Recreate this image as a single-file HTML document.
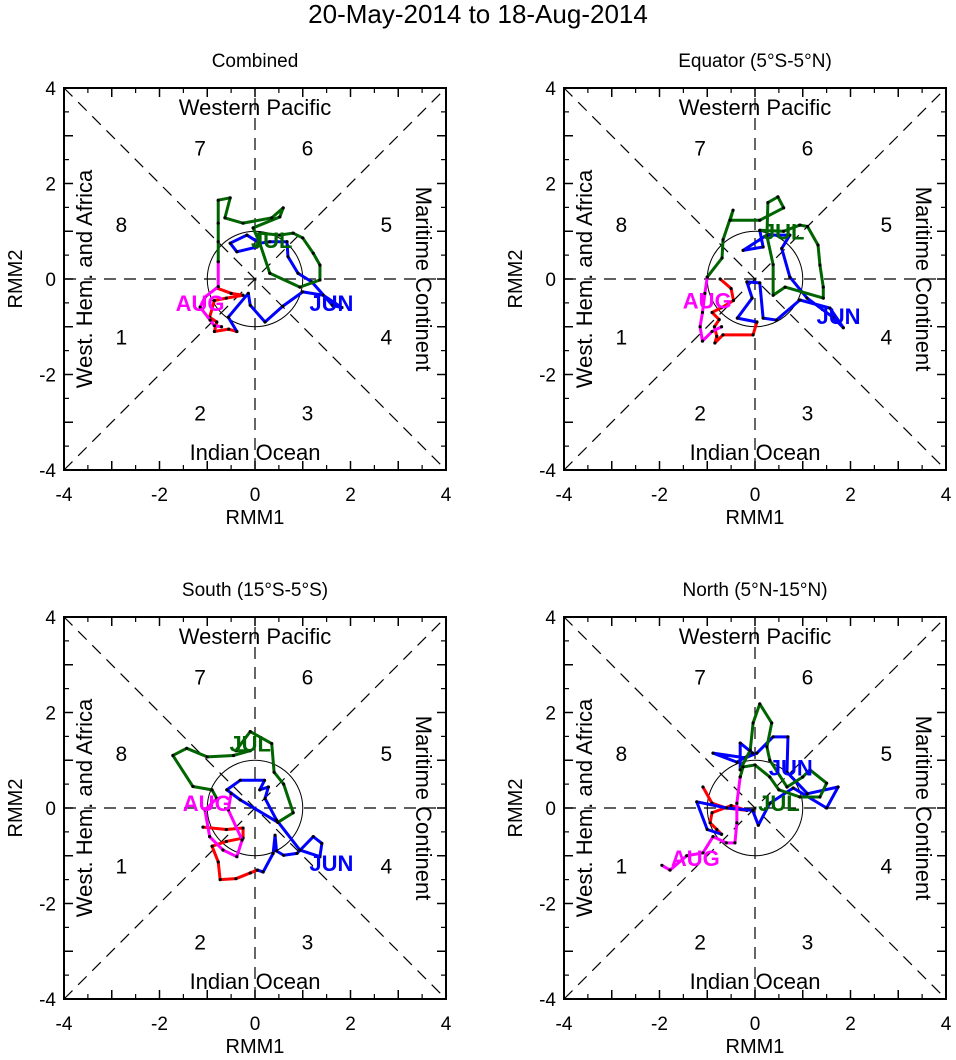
<!DOCTYPE html>
<html><head><meta charset="utf-8"><style>
html,body{margin:0;padding:0;background:#fff;}
svg{display:block;font-family:"Liberation Sans",sans-serif;}
</style></head><body>
<svg id="chart" width="956" height="1060" viewBox="0 0 956 1060" xmlns="http://www.w3.org/2000/svg">
<text x="478" y="23" font-size="26" text-anchor="middle">20-May-2014 to 18-Aug-2014</text>
</svg>
<script>
const ticks=[-4,-3,-2,-1,0,1,2,3,4];
const tickLabels=["-4","-2","0","2","4"];
const tickLabelVals=[-4,-2,0,2,4];
const monthColors={may:"#ff0000",jun:"#0000ff",jul:"#006400",aug:"#ff00ff"};
const panelTitles=["Combined","Equator (5°S-5°N)","South (15°S-5°S)","North (5°N-15°N)"];
const panelNames=["combined","equator","south","north"];
const mayCombined=[[-0.8,-0.19],[-0.5,-0.3],[-0.25,-0.34],[-0.6,-0.4],[-0.85,-0.45],[-0.95,-0.8],[-0.8,-0.9],[-0.85,-1.1],[-0.55,-1.05],[-0.38,-1.1]];
const junCombined=[[-0.38,-1.1],[-0.56,-0.8],[-0.14,-0.3],[-0.1,-0.55],[0.21,-0.9],[0.58,-0.57],[1.0,-0.27],[1.43,-0.34],[1.82,-0.6],[1.62,-0.55],[1.19,-0.06],[0.9,0.12],[0.69,0.47],[0.67,0.78],[0.31,0.78],[0.1,0.75],[-0.17,0.92],[-0.52,0.75],[-0.38,0.57],[0.04,0.67]];
const julCombined=[[0.04,0.67],[0.1,0.96],[0.52,0.92],[0.8,0.96],[1.0,0.86],[1.22,0.54],[1.36,0.29],[1.36,-0.02],[0.94,-0.17],[0.31,0.12],[0.1,0.75],[-0.04,1.07],[0.52,1.3],[0.59,1.49],[0.35,1.28],[-0.25,1.17],[-0.63,1.28],[-0.52,1.7],[-0.77,1.65],[-0.77,1.17],[-0.77,0.78],[-0.77,0.36]];
const augCombined=[[-0.77,0.36],[-0.77,-0.16],[-1.05,-0.38],[-1.15,-0.59],[-0.94,-0.86],[-0.85,-0.98],[-0.7,-1.0]];
const mayEquator=[[-0.73,0],[-0.5,-0.2],[-0.45,-0.45],[-0.7,-0.6],[-0.9,-0.7],[-0.75,-0.85],[-0.85,-1.0],[-0.8,-1.2],[-0.84,-1.34],[-0.67,-1.17],[-0.04,-1.17],[0.04,-0.9]];
const junEquator=[[0.04,-0.9],[-0.37,-0.82],[-0.06,-0.4],[-0.17,-0.06],[0.1,-0.08],[0.17,-0.82],[0.45,-0.86],[0.94,-0.44],[1.57,-0.61],[1.85,-1.02],[1.63,-0.8],[1.09,-0.4],[0.73,0.04],[0.56,0.64],[0.73,0.92],[0.25,0.92],[-0.25,0.6],[0.17,0.67],[0.1,1.02]];
const julEquator=[[0.1,1.02],[0.6,1.0],[0.94,1.13],[1.1,1.1],[1.32,0.71],[1.36,0.29],[1.43,-0.17],[1.43,-0.4],[0.63,-0.17],[0.38,-0.34],[0.38,0.3],[0.25,0.9],[0.27,1.6],[0.48,1.72],[0.6,1.49],[0.1,1.23],[-0.52,1.23],[-0.46,1.44],[-0.67,0.82],[-0.69,0.44],[-1.0,0.04]];
const augEquator=[[-1.0,0.04],[-1.05,-0.3],[-1.1,-0.7],[-1.15,-1.0],[-1.1,-1.3],[-0.9,-1.1],[-0.7,-1.0]];
const maySouth=[[-1.09,-0.4],[-0.6,-0.45],[-0.25,-0.42],[-0.25,-0.63],[-0.6,-0.7],[-0.9,-0.8],[-0.77,-1.13],[-0.73,-1.5],[-0.4,-1.48],[-0.1,-1.36],[0.05,-1.3]];
const junSouth=[[0.05,-1.3],[0.17,-1.34],[0.38,-0.95],[0.42,-0.57],[0.45,-0.9],[0.6,-0.99],[0.88,-0.95],[1.22,-0.6],[1.4,-0.74],[1.36,-1.02],[0.94,-0.88],[0.45,-0.25],[0.21,0.2],[0.28,0.44],[0.1,0.38],[0.2,0.58],[-0.31,0.58],[-0.59,0.38],[-0.31,0.17],[0.48,-0.3]];
const julSouth=[[0.48,-0.3],[0.8,-0.1],[0.6,0.5],[0.4,0.75],[0.35,1.35],[-0.1,1.6],[-0.4,1.2],[-0.1,1.2],[-0.45,1.1],[-1.0,1.07],[-1.43,1.25],[-1.72,1.1],[-1.3,0.45],[-0.9,0.38],[-0.8,0.2]];
const augSouth=[[-0.8,0.2],[-1.05,-0.04],[-0.95,-0.6],[-0.67,-0.88],[-0.38,-1.02],[-0.27,-0.67],[-0.56,-0.04],[-0.5,0.3]];
const mayNorth=[[-1.09,0.44],[-0.9,0.1],[-0.6,0.0],[-0.17,-0.05],[-0.5,0.05],[-0.9,-0.1],[-0.94,-0.31],[-0.8,-0.45],[-0.7,-0.55]];
const junNorth=[[-0.7,-0.55],[-1.0,-0.45],[-1.22,0.13],[-0.59,0],[-0.05,-0.05],[0.07,-0.36],[0.31,0.1],[0.8,0.42],[1.5,0],[1.74,0.44],[1.1,0.3],[0.67,0.75],[0.69,1.49],[0.38,1.49],[0.04,1.15],[-0.2,1.05],[-0.88,1.15],[-0.38,0.96],[-0.05,1.15],[-0.31,1.36],[-0.31,0.8]];
const julNorth=[[-0.31,0.8],[-0.1,1.21],[-0.04,1.78],[0.1,2.18],[0.35,1.78],[0.25,1.28],[0.31,1.0],[0.67,0.44],[1.0,0.65],[1.15,0.8],[1.5,0.52],[1.36,0.23],[0.94,0.23],[0.5,0.38],[0.31,0.65],[0.0,0.9],[-0.25,0.86],[-0.31,0.65]];
const augNorth=[[-0.31,0.65],[-0.38,0.1],[-0.38,-0.31],[-0.42,-0.73],[-0.6,-0.73],[-0.88,-0.6],[-1.09,-0.94],[-1.43,-1.0],[-1.78,-1.3],[-1.95,-1.2]];
const panelSeries=[[mayCombined,junCombined,julCombined,augCombined],[mayEquator,junEquator,julEquator,augEquator],[maySouth,junSouth,julSouth,augSouth],[mayNorth,junNorth,julNorth,augNorth]];
const monthKeys=["may","jun","jul","aug"];
const junLabelPos=[[1.6,-0.5],[1.75,-0.78],[1.6,-1.15],[0.75,0.85]];
const julLabelPos=[[0.35,0.82],[0.6,1.0],[-0.1,1.35],[0.5,0.1]];
const augLabelPos=[[-1.15,-0.5],[-1.0,-0.45],[-1.0,0.1],[-1.25,-1.05]];

const NS="http://www.w3.org/2000/svg";
const svg=document.getElementById("chart");
const S=382, U=S/8;
const origins=[[64,88],[564,88],[64,617],[564,617]];
function mk(tag,attrs,parent){const e=document.createElementNS(NS,tag);for(const k in attrs)e.setAttribute(k,attrs[k]);parent.appendChild(e);return e;}

panelSeries.forEach((series,pi)=>{
  const [ox,oy]=origins[pi];
  const sx=v=>ox+S/2+v*U, sy=v=>oy+S/2-v*U;
  const g=mk("g",{},svg);
  
  
  const t=mk("text",{x:ox+S/2,y:oy-21,"font-size":19,"text-anchor":"middle"},g);t.textContent=panelTitles[pi];
  
  
  const dash={stroke:"#000","stroke-width":1.2,"stroke-dasharray":"12,8",fill:"none"};
  const lines=[[-4,0,4,0],[0,-4,0,4],[-4,-4,4,4],[-4,4,4,-4]];
  lines.forEach(l=>{const e=mk("line",Object.assign({x1:sx(l[0]),y1:sy(l[1]),x2:sx(l[2]),y2:sy(l[3])},dash),g);
    
    });
  const c=mk("circle",{cx:sx(0),cy:sy(0),r:U,fill:"none",stroke:"#000","stroke-width":1},g);
  
  
  ticks.forEach(v=>{
    const L=9;
    [[sx(v),oy+S,sx(v),oy+S-L],[sx(v),oy,sx(v),oy+L],[ox,sy(v),ox+L,sy(v)],[ox+S,sy(v),ox+S-L,sy(v)]].forEach(a=>{
      const e=mk("line",{x1:a[0],y1:a[1],x2:a[2],y2:a[3],stroke:"#000","stroke-width":1.5},g);
      
      });
    if(v<4){const m=v+0.5,l=5;
      [[sx(m),oy+S,sx(m),oy+S-l],[sx(m),oy,sx(m),oy+l],[ox,sy(m),ox+l,sy(m)],[ox+S,sy(m),ox+S-l,sy(m)]].forEach(a=>{
        const e=mk("line",{x1:a[0],y1:a[1],x2:a[2],y2:a[3],stroke:"#000","stroke-width":1.2},g);
        
        });}
  });
  tickLabelVals.forEach((v,i)=>{
    const a=mk("text",{x:sx(v),y:oy+S+31,"font-size":19,"text-anchor":"middle"},g);a.textContent=tickLabels[i];
    
    
    const b=mk("text",{x:ox-8,y:sy(v)+7,"font-size":19,"text-anchor":"end"},g);b.textContent=tickLabels[i];
    
    
  });
  const xt=mk("text",{x:ox+S/2,y:oy+S+54,"font-size":20,"text-anchor":"middle"},g);xt.textContent="RMM1";
  
  
  const yt=mk("text",{x:0,y:0,"font-size":20,"text-anchor":"middle",transform:`translate(${ox-42},${oy+S/2}) rotate(-90)`},g);yt.textContent="RMM2";
  
  
  const r1=mk("text",{x:ox+S/2,y:oy+27,"font-size":22,"text-anchor":"middle"},g);r1.textContent="Western Pacific";
  
  
  const r2=mk("text",{x:ox+S/2,y:oy+372,"font-size":22,"text-anchor":"middle"},g);r2.textContent="Indian Ocean";
  
  
  const r3=mk("text",{x:0,y:0,"font-size":22,"text-anchor":"middle",transform:`translate(${ox+28},${oy+S/2}) rotate(-90)`},g);r3.textContent="West. Hem. and Africa";
  
  
  const r4=mk("text",{x:0,y:0,"font-size":22,"text-anchor":"middle",transform:`translate(${ox+352},${oy+S/2}) rotate(90)`},g);r4.textContent="Maritime Continent";
  
  
  const phases=[["7",-1.15,2.75],["6",1.1,2.75],["8",-2.8,1.15],["5",2.75,1.15],["1",-2.8,-1.2],["4",2.75,-1.2],["2",-1.15,-2.8],["3",1.1,-2.8]];
  phases.forEach(p=>{const e=mk("text",{x:sx(p[1]),y:sy(p[2])+8,"font-size":21,"text-anchor":"middle"},g);e.textContent=p[0];
    
    });
  series.forEach((pts,mi)=>{
    const col=monthColors[monthKeys[mi]];
    const pl=mk("polyline",{points:pts.map(p=>sx(p[0])+","+sy(p[1])).join(" "),fill:"none",stroke:col,"stroke-width":3,"stroke-linejoin":"round"},g);
    
    
    pts.forEach(p=>{const d=mk("circle",{cx:sx(p[0]),cy:sy(p[1]),r:1.6,fill:"#000"},g);
      
      });
  });
  [["JUN",junLabelPos[pi],monthColors.jun],["JUL",julLabelPos[pi],monthColors.jul],["AUG",augLabelPos[pi],monthColors.aug]].forEach(m=>{
    const e=mk("text",{x:sx(m[1][0]),y:sy(m[1][1])+8,"font-size":22,"font-weight":"bold",fill:m[2],"text-anchor":"middle"},g);e.textContent=m[0];
    
    
  });
  const fr=mk("rect",{x:ox,y:oy,width:S,height:S,fill:"none",stroke:"#000","stroke-width":2},g);
  
  
});
</script>
</body></html>
